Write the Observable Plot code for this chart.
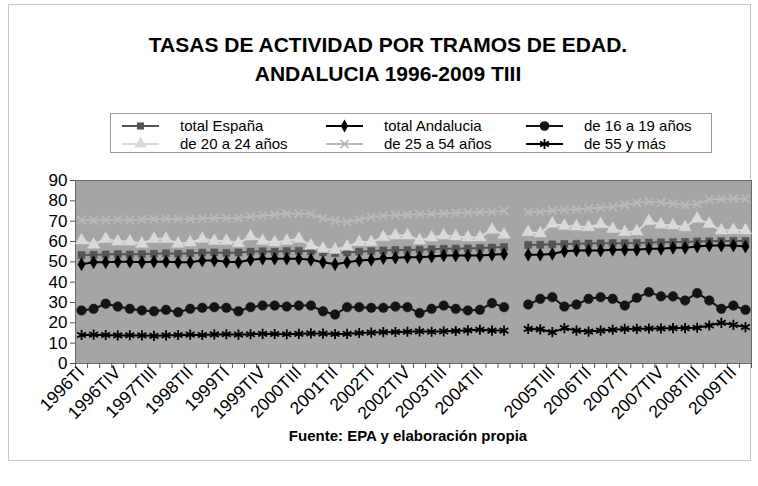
<!DOCTYPE html>
<html>
<head>
<meta charset="utf-8">
<script src="https://cdn.jsdelivr.net/npm/d3@7"></script>
<script src="https://cdn.jsdelivr.net/npm/@observablehq/plot@0.6"></script>
<style>
  body { margin: 0; background: #fff; font-family: "Liberation Sans", Arial, sans-serif; }
  #wrap { position: relative; width: 758px; height: 486px; overflow: hidden; }
  #frame { position: absolute; left: 8px; top: 4px; width: 743px; height: 457px; border: 1px solid #c8c8c8; box-sizing: border-box; }
  .title { position: absolute; left: 0; width: 776px; text-align: center; font-weight: bold; font-size: 21px; line-height: 24px; color: #000; }
  #legend { position: absolute; left: 110px; top: 113px; }
  #chart { position: absolute; left: 0; top: 170px; }
  #caption { position: absolute; left: 0; width: 816px; top: 427px; text-align: center; font-weight: bold; font-size: 15px; color: #000; }
</style>
</head>
<body>
<div id="wrap">
  <div id="frame"></div>
  <div class="title" style="top:33px">TASAS DE ACTIVIDAD POR TRAMOS DE EDAD.</div>
  <div class="title" style="top:62px">ANDALUCIA 1996-2009 TIII</div>
  <div id="legend"></div>
  <div id="chart"></div>
  <div id="caption">Fuente: EPA y elaboración propia</div>
</div>
<script>
// Categories (quarters); one blank slot between 2004TIV and 2005TI
const categories = [
  "1996TI","1996TII","1996TIII","1996TIV",
  "1997TI","1997TII","1997TIII","1997TIV",
  "1998TI","1998TII","1998TIII","1998TIV",
  "1999TI","1999TII","1999TIII","1999TIV",
  "2000TI","2000TII","2000TIII","2000TIV",
  "2001TI","2001TII","2001TIII","2001TIV",
  "2002TI","2002TII","2002TIII","2002TIV",
  "2003TI","2003TII","2003TIII","2003TIV",
  "2004TI","2004TII","2004TIII","2004TIV",
  "",
  "2005TI","2005TII","2005TIII","2005TIV",
  "2006TI","2006TII","2006TIII","2006TIV",
  "2007TI","2007TII","2007TIII","2007TIV",
  "2008TI","2008TII","2008TIII","2008TIV",
  "2009TI","2009TII","2009TIII"
];

const yTicks = [0, 10, 20, 30, 40, 50, 60, 70, 80, 90];

const totalEspana = [
  53.3, 53.5, 53.6, 53.8, 53.6, 53.8, 54.0, 54.2, 54.0, 54.2, 54.5, 54.6,
  54.4, 54.6, 55.0, 55.2, 55.0, 55.3, 55.4, 55.2, 54.6, 54.3, 54.6, 55.0,
  55.3, 55.6, 55.8, 55.8, 56.0, 56.2, 56.4, 56.5, 56.6, 56.8, 57.0, 57.3,
  null,
  58.3, 58.4, 58.6, 58.8, 58.9, 59.0, 59.1, 59.2, 59.2, 59.3, 59.5, 59.6,
  59.7, 59.8, 60.0, 60.1, 60.2, 60.3, 60.2
];
const totalAndalucia = [
  48.8, 49.8, 49.8, 50.1, 50.1, 49.8, 50.1, 50.1, 49.8, 49.8, 50.6, 50.6,
  50.1, 49.8, 51.0, 51.5, 51.5, 51.5, 51.5, 51.0, 49.8, 48.8, 49.8, 50.6,
  51.0, 51.8, 52.0, 52.3, 52.3, 52.6, 53.1, 53.1, 53.1, 53.1, 53.5, 53.8,
  null,
  53.5, 53.5, 53.9, 55.2, 55.6, 55.6, 55.6, 55.9, 55.9, 55.9, 56.4, 56.4,
  56.9, 56.9, 57.5, 58.0, 58.0, 58.0, 57.5
];
const de16a19 = [
  26.1, 26.9, 29.4, 28.0, 26.9, 26.1, 25.7, 26.4, 25.2, 26.9, 27.4, 27.7,
  27.4, 25.7, 27.7, 28.5, 28.5, 28.0, 28.5, 28.5, 25.7, 24.1, 27.7, 27.7,
  27.4, 27.4, 28.0, 27.7, 24.8, 26.9, 28.5, 26.9, 26.1, 26.4, 29.7, 27.7,
  null,
  29.0, 31.8, 32.6, 28.0, 29.0, 31.8, 32.6, 31.8, 28.5, 32.3, 35.1, 33.0,
  33.0, 31.0, 34.6, 31.0, 26.9, 28.5, 26.4
];
const de20a24 = [
  60.5, 58.5, 61.3, 60.0, 60.0, 58.9, 61.3, 61.3, 58.9, 59.5, 61.3, 60.3,
  60.3, 59.2, 62.5, 60.3, 59.5, 60.3, 61.3, 58.0, 56.4, 55.9, 57.5, 59.7,
  59.7, 62.1, 63.0, 63.0, 60.5, 62.0, 63.0, 62.5, 62.0, 62.0, 65.8, 63.4,
  null,
  64.6, 64.0, 68.8, 67.6, 67.4, 67.0, 68.5, 66.2, 64.6, 65.0, 70.0, 68.3,
  67.9, 67.0, 71.2, 68.7, 65.4, 65.6, 65.4
];
const de25a54 = [
  70.5, 70.3, 70.6, 70.8, 70.6, 70.8, 71.0, 71.2, 71.0, 71.0, 71.4, 71.6,
  71.5, 71.6, 72.3, 72.8, 73.2, 73.6, 73.8, 73.4, 71.5, 70.2, 69.6, 70.8,
  72.0, 72.6, 73.0, 73.2, 73.4, 73.5, 73.8, 74.0, 74.2, 74.4, 74.6, 75.0,
  null,
  74.3, 74.6, 75.2, 75.6, 75.8, 76.2, 76.6, 77.0, 78.0, 79.0, 79.6, 79.2,
  78.6, 78.0, 78.4, 80.6, 81.0, 81.2, 81.0
];
const de55ymas = [
  14.0, 14.2, 14.0, 13.8, 13.9, 13.8, 13.6, 13.8, 14.0, 14.2, 14.0, 14.3,
  14.4, 14.2, 14.4, 14.6, 14.5, 14.4, 14.6, 14.8, 14.7, 14.5, 14.6, 15.0,
  15.2, 15.4, 15.5, 15.6, 15.8, 15.6, 15.8, 16.0, 16.3, 16.6, 16.2, 16.2,
  null,
  17.0, 16.8, 15.4, 17.4, 16.2, 15.7, 16.2, 16.6, 17.0, 17.0, 17.2, 17.2,
  17.4, 17.4, 17.6, 18.7, 20.0, 19.0, 17.9
];

const seriesNames = ["total España", "total Andalucia", "de 16 a 19 años", "de 20 a 24 años", "de 25 a 54 años", "de 55 y más"];
const seriesValues = [totalEspana, totalAndalucia, de16a19, de20a24, de25a54, de55ymas];

// styles
const styles = [
  {color: "#555555", symbol: "square", r: 4.0, filled: true},
  {color: "#000000", symbol: "diamond", r: 3.9, filled: true},
  {color: "#141414", symbol: "circle", r: 4.8, filled: true},
  {color: "#d9d9d9", symbol: "triangle", r: 4.6, filled: true},
  {color: "#b9b9b9", symbol: "times", r: 3.8, filled: false},
  {color: "#000000", symbol: "asterisk", r: 4.8, filled: false}
];

const rows = [];
seriesNames.forEach((name, k) => {
  seriesValues[k].forEach((v, i) => rows.push({s: name, k, i, v: v == null ? NaN : v}));
});

const marks = [
  Plot.frame({fill: "#a5a5a5", stroke: "#6a6a6a", strokeWidth: 1})
];
seriesNames.forEach((name, k) => {
  const st = styles[k];
  const data = rows.filter(d => d.k === k);
  marks.push(Plot.line(data, {x: "i", y: "v", stroke: st.color, strokeWidth: 2}));
  const dotOpts = {x: "i", y: "v", symbol: () => st.symbol, r: st.r};
  if (st.filled) { dotOpts.fill = st.color; dotOpts.stroke = st.color; dotOpts.strokeWidth = 0.5; }
  else { dotOpts.stroke = st.color; dotOpts.strokeWidth = 1.8; dotOpts.fill = "none"; }
  marks.push(Plot.dot(data.filter(d => !isNaN(d.v)), dotOpts));
});

marks.push(
  Plot.axisY({ticks: yTicks, tickSize: 5, tickPadding: 3, fontSize: 17, stroke: "#555", label: null}),
  Plot.axisX({ticks: d3.range(-0.5, categories.length, 1), tickSize: 5, tickFormat: () => "", stroke: "#555", label: null}),
  Plot.axisX({ticks: d3.range(0, categories.length, 3), tickFormat: i => categories[i], tickRotate: -45, tickSize: 0, tickPadding: 6, fontSize: 17.5, label: null})
);

const chart = Plot.plot({
  width: 758,
  height: 290,
  marginLeft: 75,
  marginRight: 7,
  marginTop: 10,
  marginBottom: 97,
  style: {fontFamily: "Liberation Sans, Arial, sans-serif", background: "transparent", color: "#000", overflow: "visible"},
  x: {type: "linear", domain: [-0.5, categories.length - 0.5], label: null},
  y: {domain: [0, 90], label: null},
  symbol: {type: "identity"},
  marks
});
document.getElementById("chart").appendChild(chart);

// Legend
const lw = 602, lh = 40;
const lsvg = d3.select("#legend").append("svg").attr("width", lw).attr("height", lh)
  .style("font-family", "Liberation Sans, Arial, sans-serif").style("font-size", "15px");
lsvg.append("rect").attr("x", 0.5).attr("y", 0.5).attr("width", lw - 1).attr("height", lh - 1)
  .attr("fill", "#fff").attr("stroke", "#999");
const symMap = {square: d3.symbolSquare, diamond: d3.symbolDiamond, circle: d3.symbolCircle,
  triangle: d3.symbolTriangle, times: d3.symbolTimes, asterisk: d3.symbolAsterisk};
const colX = [12, 216, 416];
const rowY = [13, 31];
seriesNames.forEach((name, k) => {
  const st = styles[k];
  const cx = colX[k % 3], cy = rowY[Math.floor(k / 3)];
  const g = lsvg.append("g");
  g.append("line").attr("x1", cx).attr("x2", cx + 37).attr("y1", cy).attr("y2", cy)
    .attr("stroke", st.color).attr("stroke-width", 2);
  const p = g.append("path").attr("transform", `translate(${cx + 18.5},${cy})`)
    .attr("d", d3.symbol(symMap[st.symbol], Math.PI * st.r * st.r)());
  if (st.filled) p.attr("fill", st.color);
  else p.attr("fill", "none").attr("stroke", st.color).attr("stroke-width", 1.8);
  g.append("text").attr("x", cx + 58).attr("y", cy).attr("dy", "0.35em").attr("fill", "#000").text(name);
});
</script>
</body>
</html>
